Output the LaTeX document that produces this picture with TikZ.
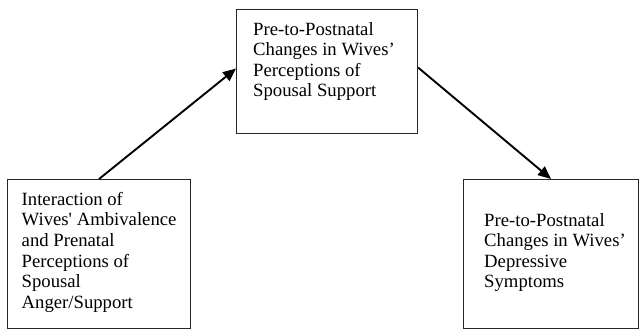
\documentclass[tikz,border=0pt]{standalone}
\usepackage{fontspec}
\setmainfont{Liberation Serif}
\usepackage{tikz}
\usetikzlibrary{arrows.meta}

\tikzset{
    box/.style={draw=black!85, line width=1.1pt, inner sep=0pt, anchor=north west},
    txt/.style={align=left, inner sep=0pt, anchor=north west,
        font=\fontsize{18.7}{20.6}\selectfont},
    arr/.style={-{Triangle[length=13pt,width=11pt]}, line width=1.9pt, black}
}

\begin{document}
\begin{tikzpicture}[x=1pt, y=-1pt]
    \useasboundingbox (0,0) rectangle (639,329);
    % Boxes
    \node[box, minimum width=183pt, minimum height=149pt] (inter) at (7,179) {};
    \node[box, minimum width=181pt, minimum height=124pt] (supp) at (236,9) {};
    \node[box, minimum width=175pt, minimum height=149pt] (depr) at (463,179) {};
    % Box texts
    \node[txt] (intertxt) at (21.5,192) {Interaction of\\Wives\textquotesingle{} Ambivalence\\and Prenatal\\Perceptions of\\Spousal\\Anger/Support};
    \node[txt] (supptxt) at (253,22) {Pre-to-Postnatal\\Changes in Wives’\\Perceptions of\\Spousal Support};
    \node[txt] (deprtxt) at (484,213) {Pre-to-Postnatal\\Changes in Wives’\\Depressive\\Symptoms};
    % Paths
    \draw[arr] (inter.north) -- ([yshift=3pt]supp.west);
    \draw[arr] ([yshift=4pt]supp.east) -- (depr.north);
\end{tikzpicture}
\end{document}
